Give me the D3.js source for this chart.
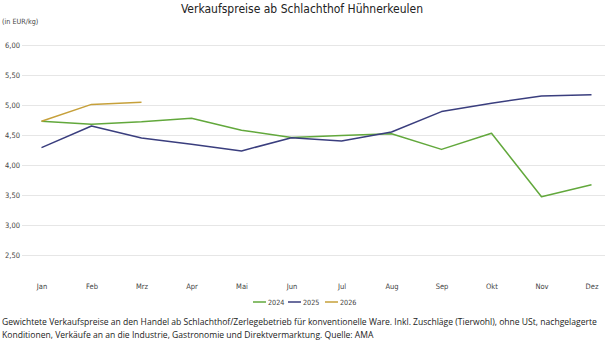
<!DOCTYPE html>
<html><head><meta charset="utf-8">
<script src="https://cdn.jsdelivr.net/npm/d3@7"></script>
<style>body{margin:0;background:#fff}svg{display:block}</style>
</head><body>
<script>
const months = ["Jan","Feb","Mrz","Apr","Mai","Jun","Jul","Aug","Sep","Okt","Nov","Dez"];
const yTicks = [2.5,3.0,3.5,4.0,4.5,5.0,5.5,6.0];
const s2024 = [4.73,4.68,4.72,4.78,4.58,4.46,4.49,4.52,4.26,4.53,3.47,3.67];
const s2025 = [4.29,4.65,4.45,4.345,4.235,4.455,4.40,4.55,4.89,5.03,5.15,5.17];
const s2026 = [4.73,5.01,5.045];
const seriesNames = ["2024","2025","2026"];
const seriesColors = ["#62a83c","#3a3e7e","#c6a03a"];
const title = "Verkaufspreise ab Schlachthof Hühnerkeulen";
const unit = "(in EUR/kg)";
const note1 = "Gewichtete Verkaufspreise an den Handel ab Schlachthof/Zerlegebetrieb für konventionelle Ware. Inkl. Zuschläge (Tierwohl), ohne USt, nachgelagerte";
const note2 = "Konditionen, Verkäufe an an die Industrie, Gastronomie und Direktvermarktung. Quelle: AMA";

const W=605,H=340;
const svg=d3.select("body").append("svg").attr("width",W).attr("height",H);
const x=d3.scalePoint().domain(months).range([41.5,591.5]);
const y=d3.scaleLinear().domain([2.0,6.0]).range([285,45]);
const axisFont="'DejaVu Sans Condensed', sans-serif";

svg.append("text").attr("x",302).attr("y",13).attr("text-anchor","middle")
  .attr("font-family","'DejaVu Sans Condensed', sans-serif").attr("font-size",12).attr("fill","#222").text(title);
svg.append("text").attr("x",2).attr("y",24).attr("font-family",axisFont).attr("font-size",7.2).attr("fill","#444").text(unit);

// grid + y labels
const yAxis=d3.axisLeft(y).tickValues(yTicks).tickSize(-(605-22)).tickFormat(d=>d3.format(".2f")(d).replace(".",","));
const gy=svg.append("g").attr("transform","translate(22,0)").call(yAxis);
gy.select(".domain").remove();
gy.selectAll(".tick line").attr("stroke","#e6e6e6").attr("stroke-width",1.2);
gy.selectAll(".tick text").attr("x",-2).attr("font-family",axisFont).attr("font-size",7.5).attr("fill","#444").attr("text-anchor","end");

// x labels
const xAxis=d3.axisBottom(x).tickSize(0).tickPadding(0);
const gx=svg.append("g").attr("transform","translate(0,284)").call(xAxis);
gx.select(".domain").remove();
gx.selectAll(".tick text").attr("font-family",axisFont).attr("font-size",7.5).attr("fill","#444");

const line=d3.line().x((d,i)=>x(months[i])).y(d=>y(d));
[s2024,s2025,s2026].forEach((s,k)=>{
  svg.append("path").datum(s).attr("d",line).attr("fill","none")
    .attr("stroke",seriesColors[k]).attr("stroke-width",1.5).attr("stroke-linejoin","round");
});

// legend
const lx=[253,288,325];
seriesNames.forEach((n,k)=>{
  svg.append("line").attr("x1",lx[k]).attr("x2",lx[k]+13).attr("y1",302).attr("y2",302)
    .attr("stroke",seriesColors[k]).attr("stroke-width",1.5);
  svg.append("text").attr("x",lx[k]+15).attr("y",304.5).attr("font-family",axisFont)
    .attr("font-size",7.2).attr("fill","#444").text(n);
});

const t1=svg.append("text").attr("x",2).attr("y",325).attr("font-family","'Open Sans', sans-serif").attr("font-size",10).attr("fill","#222").text(note1);
const w=t1.node().getComputedTextLength();
const fs=10*596/w;
t1.attr("font-size",fs);
svg.append("text").attr("x",2).attr("y",338).attr("font-family","'Open Sans', sans-serif").attr("font-size",fs).attr("fill","#222").text(note2);
</script>
</body></html>
